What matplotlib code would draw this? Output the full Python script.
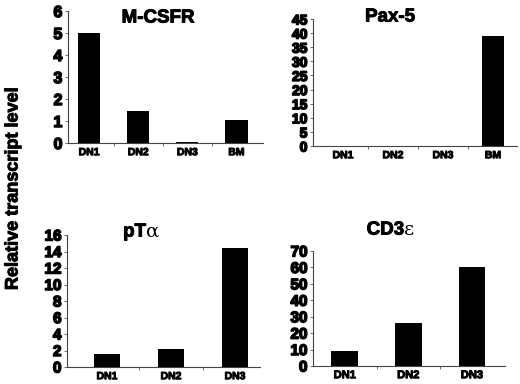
import matplotlib.pyplot as plt
import matplotlib.patheffects as pe
import numpy as np

plt.rcParams['font.family'] = ['Liberation Sans', 'DejaVu Sans']
plt.rcParams['font.weight'] = 'bold'

# data
mcsfr_cats = ['DN1', 'DN2', 'DN3', 'BM']
mcsfr_vals = [5.02, 1.45, 0.05, 1.05]

pax5_cats = ['DN1', 'DN2', 'DN3', 'BM']
pax5_vals = [0, 0, 0, 39]

pta_cats = ['DN1', 'DN2', 'DN3']
pta_vals = [1.6, 2.2, 14.4]

cd3_cats = ['DN1', 'DN2', 'DN3']
cd3_vals = [9, 26, 60]

W, H = 520, 384
fig = plt.figure(figsize=(5.2, 3.84), dpi=100)
thick = [pe.withStroke(linewidth=0.7, foreground='black')]
thicker = [pe.withStroke(linewidth=1.1, foreground='black')]


def px_axes(x0, x1, ytop, ybot):
    return fig.add_axes([x0 / W, 1 - ybot / H, (x1 - x0) / W, (ybot - ytop) / H])


def panel(ax, cats, vals, ymax, ystep, xlim, width, ytick_size, xtick_size,
          ytick_family=None):
    x = np.arange(len(cats))
    ax.bar(x, vals, width=width, color='black')
    ax.set_xlim(*xlim)
    ax.set_ylim(0, ymax)
    yt = np.arange(0, ymax + ystep / 2, ystep)
    fam = ytick_family if ytick_family else ['Liberation Sans']
    ax.set_yticks(yt, labels=[str(int(v)) for v in yt], fontsize=ytick_size,
                  fontweight='bold', family=fam)
    ax.set_xticks(x, labels=cats, fontsize=xtick_size, fontweight='bold')
    ax.set_xticks(x[:-1] + 0.5, minor=True)
    ax.tick_params(axis='x', which='major', length=0, pad=3)
    ax.tick_params(axis='x', which='minor', length=2.5, width=0.6, color='#555555')
    ax.tick_params(axis='y', length=2.5, width=0.6, pad=1.5, color='#555555')
    for t in ax.yaxis.get_major_ticks():
        t.label1.set_path_effects(thicker)
    for t in ax.xaxis.get_major_ticks():
        t.label1.set_path_effects(thick)
    for s in ['top', 'right']:
        ax.spines[s].set_visible(False)
    for s in ['left', 'bottom']:
        ax.spines[s].set_linewidth(0.8)
        ax.spines[s].set_color('#444444')


def title(xc, yc, main, greek=''):
    t = fig.text(xc / W, 1 - yc / H, main, fontsize=13.5, fontweight='bold',
                 ha='center' if not greek else 'right', va='center',
                 path_effects=thick)
    if greek:
        fig.text(xc / W, 1 - yc / H, greek, fontsize=14, fontweight='normal',
                 family=['DejaVu Serif'], ha='left', va='center')
    return t


ax1 = px_axes(68, 263, 11, 143)
panel(ax1, mcsfr_cats, mcsfr_vals, 6, 1, (-0.43, 3.54), 0.45, 11.5, 7.5)
title(158, 18, 'M-CSFR')

ax2 = px_axes(313, 517, 19, 146)
panel(ax2, pax5_cats, pax5_vals, 45, 5, (-0.6, 3.48), 0.44, 10, 7.5,
      ytick_family=['Liberation Sans Narrow', 'Liberation Sans'])
title(390, 17, 'Pax-5')

ax3 = px_axes(67, 260, 235, 367)
panel(ax3, pta_cats, pta_vals, 16, 2, (-0.625, 2.39), 0.42, 11, 7.5)
title(146, 232, 'pT', '\u03b1')

ax4 = px_axes(313, 505, 251, 366)
panel(ax4, cd3_cats, cd3_vals, 70, 10, (-0.5, 2.52), 0.42, 11, 8)
title(404, 230, 'CD3', '\u03b5')

fig.text(13 / W, 1 - 189 / H, 'Relative transcript level', rotation=90,
         fontsize=13, fontweight='bold', ha='center', va='center',
         path_effects=thick)

fig.savefig('out.png', dpi=100)
